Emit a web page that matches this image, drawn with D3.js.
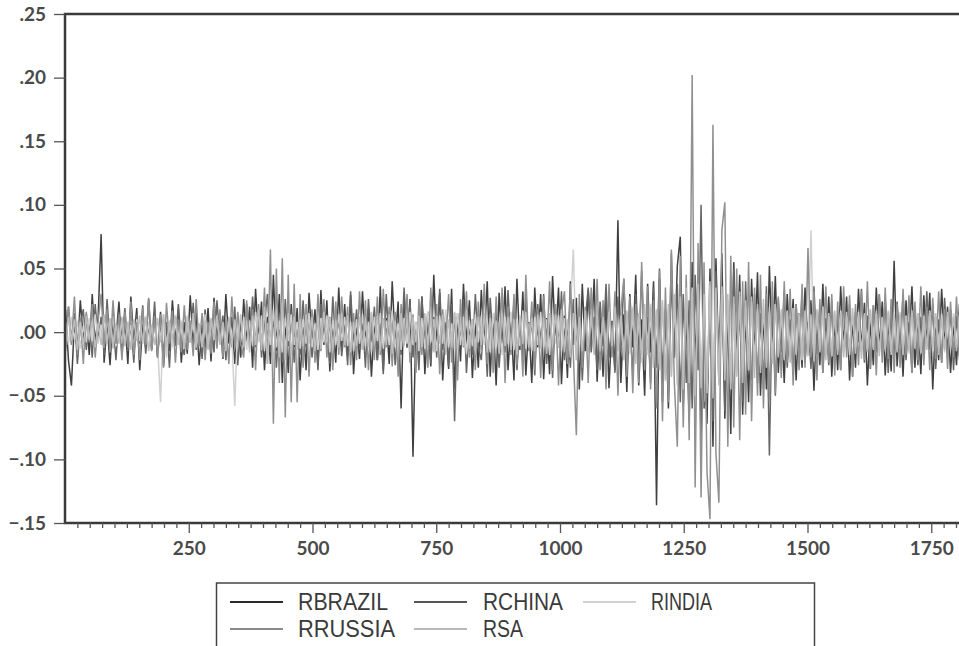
<!DOCTYPE html>
<html>
<head>
<meta charset="utf-8">
<script src="https://cdn.jsdelivr.net/npm/d3@7"></script>
<style>
  body { margin: 0; background: #fff; }
  .js-chart svg { display: block; }
  .tick-label { font-family: Lato, "Liberation Sans", sans-serif; font-weight: 700; fill: #4a4a4a; }
  .legend-label { font-family: "Liberation Sans", Arial, sans-serif; fill: #3a3a3a; }
</style>
</head>
<body>
<div class="js-chart"></div>
<script>
// Daily returns read off the picture, one value per 6 observations,
// in units of 0.001 (so 77 means .077).
const obsStep = 6;

const rBrazil = [
  18,-22,-42,8,-15,25,-6,14,-18,30,-9,12,77,-24,6,-26,15,-5,24,-18,
  10,-25,28,-6,19,-30,7,-12,26,-14,9,-19,16,-27,5,-15,25,-8,18,-24,
  8,-17,29,-10,15,-26,6,-13,19,-23,27,-5,14,-21,30,-9,12,-25,6,-20,
  26,-8,20,-28,34,-7,24,-30,12,-25,45,-15,30,-40,10,-32,22,-12,19,-38,
  9,-30,31,-6,18,-27,33,-10,25,-31,8,-24,35,-12,22,-19,29,-33,7,-21,
  32,-10,19,-35,6,-22,36,-30,11,-25,40,-8,24,-60,30,-12,26,-98,8,-24,
  28,-33,9,-27,45,-11,31,-38,7,-29,34,-45,12,-23,38,-10,25,-36,9,-28,
  33,-8,40,-35,12,-42,31,-9,36,-30,10,-38,42,-14,32,-34,8,-40,35,-12,
  30,-37,11,-33,44,-8,35,-41,13,-36,40,-10,27,-45,38,-15,33,-9,42,-39,
  12,-35,28,-44,9,-30,88,-40,14,-47,30,-12,45,-42,10,-50,38,-16,40,-136,
  42,-55,18,-60,48,-20,52,75,-58,15,-70,55,-25,45,-85,20,-72,50,-90,58,
  -30,62,-68,18,-80,55,-22,45,-65,16,-55,42,-20,47,-50,14,-45,52,-18,44,
  -32,12,-40,30,-10,26,-38,15,-28,35,-12,25,-46,11,-26,38,-14,28,-35,9,
  -30,36,-12,28,-38,10,-28,34,-14,23,-42,9,-26,35,-13,24,-34,11,-31,56,
  -27,12,-35,25,-9,36,-28,13,-33,29,-10,31,-45,12,-22,34,-11,20,-32,8,
  -26,22,-10,18,-24
];

const rChina = [
  -12,20,-8,15,-25,6,18,-14,9,-20,22,-6,12,-18,26,-10,8,-22,16,-7,
  19,-15,7,-24,14,-9,21,-17,6,-12,24,-20,10,-16,8,-28,17,-11,22,-9,
  -18,12,-8,23,-14,6,-21,18,-10,9,-16,25,-7,13,-22,10,-12,20,-26,8,
  -15,22,-9,28,-12,18,-20,7,30,-16,14,-28,9,-22,26,-11,17,-24,8,-18,
  25,-12,16,-20,8,-30,22,-7,14,-25,28,-10,12,-19,6,-26,32,-9,18,-14,
  10,-28,26,-8,20,-22,7,-33,30,-11,15,-26,9,-18,35,-12,24,-20,8,-30,
  28,-9,16,-24,12,-20,34,-14,8,-27,22,-70,15,-10,26,-32,7,-18,30,-12,
  -22,14,-35,27,-8,20,-28,10,-16,33,-12,24,-30,9,-20,28,-14,11,-34,22,
  -10,30,-25,8,-36,18,-12,32,-22,7,-28,26,-14,20,-38,9,35,-16,12,-30,
  24,-11,38,-20,8,-32,28,-15,42,-25,10,-34,30,-18,48,-22,12,-40,35,-28,
  50,-35,15,-48,62,-20,38,-55,30,-40,25,-60,45,-30,100,-60,-50,20,-70,48,
  -40,35,-62,22,-45,50,-30,18,-55,40,-25,-38,30,-40,15,-44,36,-97,28,-50,
  26,-16,32,-28,10,-34,22,-14,30,-24,8,-29,36,-18,21,-32,11,-26,24,-20,
  10,-30,27,-12,22,-35,16,-8,34,-24,13,-29,21,-16,30,-10,26,-32,14,-21,
  24,-11,29,-22,8,-32,19,-26,12,-18,32,-14,22,-29,10,-24,27,-16,18,-30,
  13,-19,24,-10,16
];

const rIndia = [
  8,-10,12,-6,9,-13,5,-8,11,-7,14,-9,6,-12,10,-5,13,-11,7,-9,
  12,-8,6,-14,10,-7,13,-9,8,-11,5,-10,-55,14,-20,7,-12,11,-6,9,
  -10,13,-7,9,-12,6,-11,14,-8,10,-6,12,-9,7,-13,11,-5,-58,10,-8,
  12,-14,9,-11,16,-8,13,-15,7,-10,18,-12,9,-16,11,-7,14,-10,8,-13,
  10,-9,15,-12,7,-14,11,-8,13,-16,9,-10,14,-7,12,-11,8,-15,10,-9,
  14,-11,8,-16,12,-7,15,-13,9,-10,17,-12,7,-14,11,-9,16,-10,8,-15,
  11,-13,16,-8,10,-15,13,-9,18,-12,7,-14,15,-10,12,-17,9,-11,14,-8,
  13,-10,9,-16,15,-12,8,-18,12,-9,16,-14,10,-11,17,-13,7,-15,12,-10,
  16,-12,10,-18,14,-9,13,-15,11,-20,17,65,-22,14,-18,12,-16,15,-11,18,
  -14,12,-19,16,-10,18,-15,13,-22,11,-17,20,-13,15,-24,12,-18,22,-16,14,
  -25,20,-30,18,-35,28,-22,32,-40,25,-28,35,-45,30,-38,24,-42,36,-30,26,
  -35,30,-28,25,-40,22,-32,28,-25,20,-30,24,-22,18,-27,20,-24,16,-20,22,
  -18,15,-20,17,-14,19,-16,13,-22,15,-12,80,-18,16,-14,20,-17,12,-19,15,
  -13,17,-15,12,-18,14,-11,16,-17,13,-14,18,-12,15,-16,11,-13,17,-15,12,
  -14,16,-12,13,-17,15,-11,14,-16,12,-13,17,-15,11,-12,14,-16,13,-11,15,
  -12,14,-10,13,-11
];

const rRussia = [
  -15,20,-10,28,-18,12,-25,16,-8,22,-20,9,30,-12,18,-16,25,-9,14,-22,
  16,-12,24,-18,8,-22,19,-10,27,-15,11,-20,14,-28,23,-9,17,-24,10,-16,
  21,-14,9,-19,26,-11,15,-22,8,-17,24,-13,18,-20,10,-25,28,-12,16,-9,
  -20,25,-12,18,-30,22,-15,35,-25,65,-72,50,-40,58,-67,45,-55,38,-55,30,
  -28,22,-35,18,-24,30,-15,26,-20,12,-30,24,-18,28,-12,20,-26,15,-22,32,
  -14,25,-30,10,-22,28,-18,34,-12,20,-27,16,-35,22,-10,30,-24,14,-32,26,
  -18,12,-28,35,-15,22,-33,18,-10,30,-24,15,-38,26,-12,32,-20,10,-30,24,
  -16,38,-25,14,-32,28,-12,35,-40,20,-18,30,-26,12,-35,45,-15,24,-30,18,
  -36,28,-14,40,-30,22,-42,15,32,-25,38,-18,-81,30,-28,20,-40,35,-16,42,
  -30,25,-45,38,-20,32,-50,18,42,-35,28,-48,22,-40,55,-30,36,-45,25,-60,
  48,-70,35,-55,65,-40,-90,60,-75,45,-85,202,-122,70,-130,55,-110,-147,163,-95,
  -134,80,102,-90,60,-75,50,-85,40,-65,55,-70,35,-50,45,-60,30,-55,40,-48,
  28,-36,40,-24,34,-42,22,-30,38,-28,66,-20,32,-38,26,-32,36,-24,30,-34,
  24,-30,36,-20,29,-35,22,-26,32,-22,40,-28,21,-34,30,-24,35,-21,26,-32,
  22,-28,34,-18,29,-32,24,-22,36,-26,20,-30,27,-21,32,-24,18,-29,24,-20,
  28,-22,19,-26,24
];

const rSA = [
  -9,12,-7,10,-14,8,-11,13,-6,9,-12,7,-10,14,-8,11,-13,6,-9,12,
  -11,8,-14,10,-7,13,-9,12,-15,6,-10,11,-8,14,-12,9,-6,13,-10,8,
  -13,10,-8,15,-11,7,-12,9,-14,11,-6,13,-10,8,-15,12,-9,10,-7,14,
  -12,9,-16,13,-10,18,-14,20,-25,22,-28,18,-20,24,-22,15,-18,12,-14,10,
  -11,14,-9,12,-15,10,-13,16,-8,11,-14,9,-12,15,-10,13,-16,8,-11,12,
  -14,10,-12,16,-9,13,-15,11,-10,14,-17,9,-12,15,-11,10,-16,12,-8,13,
  -12,15,-10,11,-16,13,-9,14,-18,10,-12,16,-14,9,-11,17,-13,10,-15,12,
  -10,14,-16,11,-13,9,-17,15,-11,12,-14,10,-18,13,-9,16,-12,11,-15,14,
  -13,11,-17,15,-10,14,-12,18,-16,10,-20,15,-22,12,-15,17,-11,14,-18,13,
  -15,12,-18,16,-11,20,-14,13,-22,17,-12,19,-25,15,-18,22,-14,20,-28,18,
  -30,25,-38,22,-35,30,-42,28,-45,35,-40,32,-50,38,-44,30,-48,40,-52,35,
  -42,36,-38,30,-45,28,-35,32,-40,25,-30,28,-36,22,-32,26,-28,20,-25,22,
  -20,18,-22,16,-24,19,-18,15,-21,17,-19,14,-23,18,-16,20,-22,15,-19,17,
  -18,15,-20,16,-14,19,-17,13,-21,15,-16,18,-14,17,-19,12,-15,16,-18,14,
  -16,14,-18,12,-15,17,-13,15,-17,13,-14,16,-12,15,-18,11,-14,16,-13,12,
  -15,13,-11,14,-12
];

// Drawn in this order, so later series sit on top (as EViews does it).
const seriesNames = ["RBRAZIL", "RCHINA", "RINDIA", "RRUSSIA", "RSA"];
const seriesValues = [rBrazil, rChina, rIndia, rRussia, rSA];
const seriesColors = ["#404040", "#666666", "#d0d0d0", "#909090", "#bcbcbc"];
const legendColors = ["#2b2b2b", "#575757", "#d2d2d2", "#8a8a8a", "#b9b9b9"];

const yTicks = [-0.15, -0.10, -0.05, 0, 0.05, 0.10, 0.15, 0.20, 0.25];
const xTicks = [250, 500, 750, 1000, 1250, 1500, 1750];
const xMax = 1830;

const returnsChart = (function () {
  "use strict";

  var publicAPIs = {};

  var width = 959;
  var height = 646;
  var plot = { left: 65, top: 14, bottom: 523, right: 65 + xMax * 0.495 };

  var svg = null;
  var x = null;
  var y = null;

  publicAPIs.init = function (selector) {
    svg = d3.select(selector)
      .append("svg")
      .attr("width", width)
      .attr("height", height);

    x = d3.scaleLinear().domain([0, xMax]).range([plot.left, plot.right]);
    y = d3.scaleLinear().domain([-0.15, 0.25]).range([plot.bottom, plot.top]);

    drawLines();
    drawFrame();
    drawAxes();
    drawLegend();
  };

  /**
   * One path per series; points are spaced obsStep observations apart.
   */
  var drawLines = function () {
    var line = d3.line()
      .x(function (d, i) { return x(1 + i * obsStep); })
      .y(function (d) { return y(d / 1000); });

    svg.append("g")
      .selectAll("path")
      .data(seriesValues)
      .enter()
        .append("path")
        .attr("d", line)
        .attr("fill", "none")
        .attr("stroke", function (d, i) { return seriesColors[i]; })
        .attr("stroke-width", 1.5)
        .attr("stroke-linejoin", "miter")
        .attr("stroke-miterlimit", 1);
  };

  var drawFrame = function () {
    svg.append("rect")
      .attr("x", plot.left)
      .attr("y", plot.top)
      .attr("width", plot.right - plot.left)
      .attr("height", plot.bottom - plot.top)
      .attr("fill", "none")
      .attr("stroke", "#3a3a3a")
      .attr("stroke-width", 2.5);
  };

  var drawAxes = function () {
    var fmt = function (v) {
      return d3.format(".2f")(v).replace("0.", ".");
    };

    var yAxis = svg.append("g")
      .attr("transform", "translate(" + plot.left + ",0)")
      .call(d3.axisLeft(y).tickValues(yTicks).tickSize(11).tickPadding(8).tickFormat(fmt));

    // minor ticks every 25 observations
    var minor = d3.range(25, xMax, 25).filter(function (v) { return v % 250 !== 0; });
    svg.append("g")
      .attr("transform", "translate(0," + plot.bottom + ")")
      .call(d3.axisBottom(x).tickValues(minor).tickSize(5).tickFormat(""));

    var xAxis = svg.append("g")
      .attr("transform", "translate(0," + plot.bottom + ")")
      .call(d3.axisBottom(x).tickValues(xTicks).tickSize(10).tickPadding(9).tickFormat(d3.format("d")));

    svg.selectAll(".domain").remove();
    svg.selectAll(".tick line").attr("stroke", "#555").attr("stroke-width", 1.3);

    yAxis.selectAll("text").attr("class", "tick-label").style("font-size", "19px");
    xAxis.selectAll("text").attr("class", "tick-label").style("font-size", "19px");
  };

  var drawLegend = function () {
    svg.append("rect")
      .attr("x", 216.5)
      .attr("y", 583)
      .attr("width", 598)
      .attr("height", 80)
      .attr("fill", "none")
      .attr("stroke", "#444")
      .attr("stroke-width", 1.5);

    var slots = [
      { lx: 230, tx: 298, row: 0, w: 90 },
      { lx: 414, tx: 483, row: 0, w: 80 },
      { lx: 583, tx: 651, row: 0, w: 61 },
      { lx: 230, tx: 298, row: 1, w: 97 },
      { lx: 414, tx: 483, row: 1, w: 40 }
    ];

    var item = svg.append("g")
      .selectAll("g")
      .data(seriesNames)
      .enter()
        .append("g");

    item.append("line")
      .attr("x1", function (d, i) { return slots[i].lx; })
      .attr("x2", function (d, i) { return slots[i].lx + 53; })
      .attr("y1", function (d, i) { return 602 + slots[i].row * 27; })
      .attr("y2", function (d, i) { return 602 + slots[i].row * 27; })
      .attr("stroke", function (d, i) { return legendColors[i]; })
      .attr("stroke-width", 2);

    item.append("text")
      .attr("class", "legend-label")
      .attr("x", function (d, i) { return slots[i].tx; })
      .attr("y", function (d, i) { return 609.5 + slots[i].row * 27; })
      .attr("textLength", function (d, i) { return slots[i].w; })
      .attr("lengthAdjust", "spacingAndGlyphs")
      .style("font-size", "24px")
      .text(function (d) { return d; });
  };

  return publicAPIs;
})();

if (d3 && document.querySelectorAll(".js-chart").length) {
  returnsChart.init(".js-chart");
}
</script>
</body>
</html>
